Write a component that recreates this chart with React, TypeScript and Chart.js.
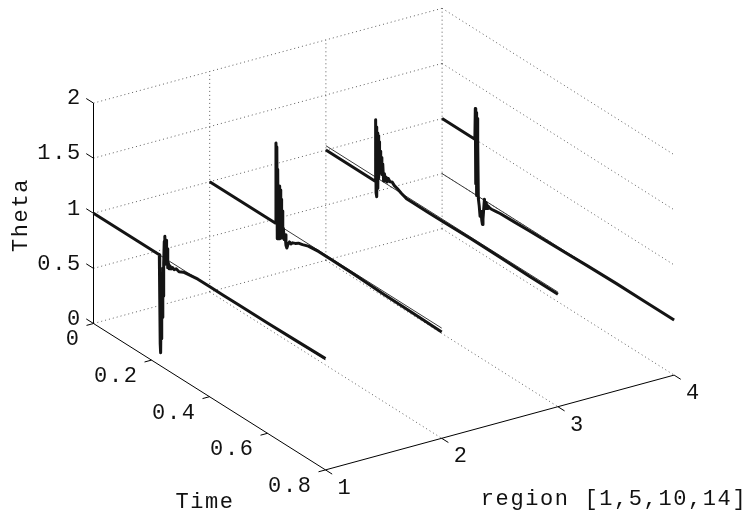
import React, { useEffect, useRef } from 'react';
import { Chart, registerables } from 'chart.js';

Chart.register(...registerables);

// ---------------- data ----------------
const regionTicks = [1, 2, 3, 4];
const regionTickLabels = ['1', '2', '3', '4'];
const timeTicks = [0, 0.2, 0.4, 0.6, 0.8];
const timeTickLabels = ['0', '0.2', '0.4', '0.6', '0.8'];
const thetaTicks = [0, 0.5, 1, 1.5, 2];
const thetaTickLabels = ['0', '0.5', '1', '1.5', '2'];
const regionTitle = 'region [1,5,10,14]';
const timeTitle = 'Time';
const thetaTitle = 'Theta';

const regionLim = [1, 4];
const timeLim = [0, 0.8];
const thetaLim = [0, 2];

// true parameter value per region (thin lines)
const trueTheta = [1.0, 1.0, 1.04, 0.5];

// estimated parameter per region (thick lines)
const est1Time = [0, 0.227, 0.2285, 0.23, 0.2315, 0.233, 0.2345, 0.236, 0.2375, 0.239, 0.2405, 0.242, 0.244, 0.246, 0.248, 0.25, 0.252, 0.254, 0.256, 0.258, 0.261, 0.264, 0.268, 0.272, 0.278, 0.285, 0.295, 0.31, 0.33, 0.36, 0.4, 0.45, 0.5, 0.6, 0.7, 0.8];
const est1Theta = [1.0, 1.0, 0.6, 0.2, 0.12, 0.5, 0.25, 0.85, 0.45, 0.9, 0.65, 0.95, 1.15, 1.2, 0.95, 1.17, 1.0, 1.1, 0.93, 0.98, 0.93, 0.96, 0.94, 0.96, 0.95, 0.97, 0.96, 0.98, 0.99, 1.0, 1.0, 1.0, 1.0, 1.0, 1.005, 1.01];

const est2Time = [0, 0.226, 0.2285, 0.23, 0.2315, 0.233, 0.2345, 0.236, 0.2375, 0.239, 0.2405, 0.242, 0.2435, 0.245, 0.2465, 0.248, 0.25, 0.252, 0.254, 0.257, 0.26, 0.263, 0.266, 0.27, 0.275, 0.28, 0.286, 0.295, 0.306, 0.32, 0.34, 0.375, 0.42, 0.5, 0.6, 0.7, 0.8];
const est2Theta = [1.0, 1.0, 1.73, 1.1, 1.7, 0.87, 1.5, 0.9, 1.2, 0.88, 1.36, 0.95, 1.33, 0.92, 1.25, 0.9, 1.15, 0.92, 1.0, 0.9, 0.95, 0.86, 0.84, 0.88, 0.91, 0.9, 0.92, 0.93, 0.95, 0.96, 0.98, 0.99, 0.99, 0.985, 0.975, 0.97, 0.965];

const est3Time = [0, 0.17, 0.1715, 0.173, 0.1745, 0.176, 0.1775, 0.179, 0.1805, 0.182, 0.1835, 0.185, 0.187, 0.189, 0.191, 0.193, 0.196, 0.199, 0.202, 0.205, 0.208, 0.211, 0.215, 0.221, 0.228, 0.236, 0.246, 0.26, 0.278, 0.3, 0.35, 0.4, 0.5, 0.6, 0.7, 0.8];
const est3Theta = [1.0, 1.0, 1.56, 0.9, 1.5, 0.87, 1.45, 0.95, 1.43, 1.05, 1.38, 1.1, 1.3, 1.12, 1.25, 1.1, 1.2, 1.05, 1.12, 1.06, 1.1, 1.06, 1.1, 1.08, 1.09, 1.07, 1.06, 1.04, 1.02, 1.02, 1.02, 1.02, 1.025, 1.025, 1.02, 1.02];

const est4Time = [0, 0.113, 0.1145, 0.116, 0.1175, 0.119, 0.1205, 0.122, 0.1235, 0.125, 0.128, 0.131, 0.134, 0.137, 0.139, 0.141, 0.143, 0.146, 0.149, 0.152, 0.155, 0.158, 0.164, 0.172, 0.185, 0.2, 0.25, 0.3, 0.4, 0.5, 0.6, 0.7, 0.8];
const est4Theta = [1.0, 1.0, 1.28, 0.6, 1.25, 0.5, 1.2, 0.55, 1.0, 0.48, 0.42, 0.33, 0.38, 0.3, 0.27, 0.32, 0.4, 0.51, 0.43, 0.49, 0.44, 0.47, 0.46, 0.46, 0.465, 0.47, 0.475, 0.48, 0.487, 0.495, 0.5, 0.5, 0.5];

const estTimes = [est1Time, est2Time, est3Time, est4Time];
const estThetas = [est1Theta, est2Theta, est3Theta, est4Theta];

// ---------------- view (3D -> 2D projection) ----------------
const W = 755;
const H = 519;
const VIEW = {
  ox: 93.5, oy: 323.5, // screen position of (region 1, time 0, theta 0)
  rx: 116.2, ry: -31.6, // per region unit
  tx: 290, ty: 183, // per time unit
  zx: 0, zy: -110.2, // per theta unit
};

type P = { x: number; y: number };
function proj(r: number, t: number, z: number): P {
  const dr = r - regionLim[0];
  const dt = t - timeLim[0];
  const dz = z - thetaLim[0];
  return {
    x: VIEW.ox + dr * VIEW.rx + dt * VIEW.tx + dz * VIEW.zx,
    y: VIEW.oy + dr * VIEW.ry + dt * VIEW.ty + dz * VIEW.zy,
  };
}

const GAP = { x: NaN, y: NaN };

function lineSet(points: P[], color: string, width: number, dash: number[], order: number) {
  return {
    data: points,
    showLine: true,
    borderColor: color,
    backgroundColor: color,
    borderWidth: width,
    borderDash: dash,
    pointRadius: 0,
    pointHoverRadius: 0,
    fill: false,
    tension: 0,
    spanGaps: false,
    borderCapStyle: 'butt' as const,
    borderJoinStyle: 'round' as const,
    order,
  };
}

function buildDatasets() {
  const sets: any[] = [];
  const [r0, r1] = regionLim;
  const [t0, t1] = timeLim;
  const [z0, z1] = thetaLim;

  // dotted grid
  const grid: P[] = [];
  const seg = (a: P, b: P) => { grid.push(a, b, GAP); };
  thetaTicks.forEach((z) => seg(proj(r0, t0, z), proj(r1, t0, z))); // back wall
  regionTicks.filter((r) => r !== r0).forEach((r) => seg(proj(r, t0, z0), proj(r, t0, z1)));
  thetaTicks.forEach((z) => seg(proj(r1, t0, z), proj(r1, t1, z))); // right wall
  regionTicks.filter((r) => r !== r0 && r !== r1).forEach((r) => seg(proj(r, t0, z0), proj(r, t1, z0))); // floor
  sets.push(lineSet(grid, 'rgba(40,40,40,0.75)', 1, [1, 3], 4));

  // solid axes and ticks
  const ax: P[] = [];
  const aseg = (a: P, b: P) => { ax.push(a, b, GAP); };
  aseg(proj(r0, t0, z0), proj(r0, t0, z1));
  aseg(proj(r0, t0, z0), proj(r0, t1, z0));
  aseg(proj(r0, t1, z0), proj(r1, t1, z0));
  thetaTicks.forEach((z) => aseg(proj(r0, t0, z), proj(r0, t0 - 0.025, z)));
  timeTicks.forEach((t) => aseg(proj(r0, t, z0), proj(r0 - 0.06, t, z0)));
  regionTicks.forEach((r) => aseg(proj(r, t1, z0), proj(r, t1 + 0.023, z0)));
  sets.push(lineSet(ax, '#000', 1, [], 3));

  // estimates (thick) and true values (thin)
  regionTicks.forEach((r, i) => {
    const pts = estTimes[i].map((t, k) => proj(r, t, estThetas[i][k]));
    sets.push(lineSet(pts, '#141414', 3, [], 1));
    const tp = [proj(r, t0, trueTheta[i]), proj(r, t1, trueTheta[i])];
    sets.push(lineSet(tp, '#3a3a3a', 1, [], 2));
  });
  return sets;
}

const FONT = '22px "Liberation Mono", "DejaVu Sans Mono", monospace';

const labelPlugin = {
  id: 'labels3d',
  afterDraw(chart: any) {
    const ctx: CanvasRenderingContext2D = chart.ctx;
    const sx = chart.scales.x;
    const sy = chart.scales.y;
    const px = (p: P): P => ({ x: sx.getPixelForValue(p.x), y: sy.getPixelForValue(p.y) });
    const [r0] = regionLim;
    const [t0, t1] = timeLim;
    const [z0] = thetaLim;
    ctx.save();
    ctx.fillStyle = '#111';
    ctx.font = FONT;
    (ctx as any).letterSpacing = '1.6px';
    ctx.textBaseline = 'middle';

    // theta tick labels
    ctx.textAlign = 'right';
    thetaTicks.forEach((z, i) => {
      const p = px(proj(r0, t0 - 0.025, z));
      ctx.fillText(thetaTickLabels[i], p.x - 4.5, p.y);
    });
    // time tick labels
    timeTicks.forEach((t, i) => {
      const p = px(proj(r0, t, z0));
      ctx.fillText(timeTickLabels[i], p.x - 13, p.y + 16);
    });
    // region tick labels
    ctx.textAlign = 'left';
    regionTicks.forEach((r, i) => {
      const p = px(proj(r, t1, z0));
      ctx.fillText(regionTickLabels[i], p.x + 12, p.y + 18);
    });

    // axis titles
    ctx.textAlign = 'center';
    ctx.fillText(regionTitle, 614, 499);
    ctx.fillText(timeTitle, 205, 502);
    ctx.save();
    ctx.translate(21, 215);
    ctx.rotate(-Math.PI / 2);
    ctx.fillText(thetaTitle, 0, 0);
    ctx.restore();
    ctx.restore();
  },
};

export default function App() {
  const ref = useRef<HTMLCanvasElement | null>(null);
  useEffect(() => {
    if (!ref.current) return;
    const chart = new Chart(ref.current, {
      type: 'scatter',
      data: { datasets: buildDatasets() },
      options: {
        animation: false,
        responsive: false,
        devicePixelRatio: 1,
        layout: { padding: 0 },
        plugins: { legend: { display: false }, tooltip: { enabled: false } },
        events: [],
        scales: {
          x: { type: 'linear', min: 0, max: W, display: false },
          y: { type: 'linear', min: 0, max: H, reverse: true, display: false },
        },
      },
      plugins: [labelPlugin],
    } as any);
    return () => chart.destroy();
  }, []);
  return (
    <div style={{ position: 'fixed', left: 0, top: 0, width: W, height: H, background: '#fff' }}>
      <canvas ref={ref} width={W} height={H} style={{ width: W, height: H, display: 'block' }} />
    </div>
  );
}
